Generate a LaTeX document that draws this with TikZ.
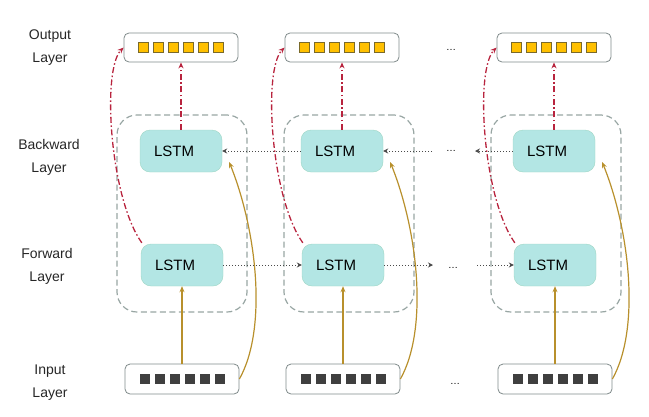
\documentclass[tikz,border=0pt]{standalone}
\usepackage{fontspec}
\setmainfont{Liberation Sans}
\usetikzlibrary{arrows.meta}
\definecolor{cellfill}{HTML}{B3E6E4}
\definecolor{celldraw}{HTML}{9ED6C4}
\definecolor{boxdraw}{HTML}{7F8A8A}
\definecolor{groupdraw}{HTML}{98A6A3}
\definecolor{outsq}{HTML}{FFC000}
\definecolor{outsqdraw}{HTML}{7A6A2A}
\definecolor{insq}{HTML}{3F3F3F}
\definecolor{redlink}{HTML}{B8243E}
\definecolor{goldlink}{HTML}{B8902C}
\definecolor{timelink}{HTML}{4A4A4A}

\begin{document}
\begin{tikzpicture}[x=1pt,y=-1pt,
    lstm/.style={draw=celldraw,fill=cellfill,rounded corners=10pt,text width=54pt,align=left,inner xsep=14pt,minimum height=42pt,font=\fontsize{15}{18}\selectfont},
    vecbox/.style={draw=boxdraw,line width=0.8pt,rounded corners=5pt,minimum width=114pt,minimum height=29pt},
    group/.style={draw=groupdraw,line width=1.2pt,dash pattern=on 6pt off 3.5pt,rounded corners=20pt,minimum width=130pt,minimum height=197pt},
    layerlab/.style={align=center,text=black!85,font=\fontsize{14}{23}\selectfont},
    toout/.style={redlink,line width=1.3pt,dash pattern=on 6pt off 2.5pt on 1.5pt off 2.5pt,-{Stealth[length=6pt,width=5pt]}},
    toin/.style={goldlink,line width=1.2pt,-{Stealth[length=6pt,width=5pt]}},
    totime/.style={timelink,line width=1pt,dotted,-{Stealth[length=5pt,width=5pt]}}]

    \useasboundingbox (0,0) rectangle (649,416);

    % Layer names on the left
    \node[layerlab] (labout) at (50,48) {Output\\Layer};
    \node[layerlab] (labbw) at (49,157) {Backward\\Layer};
    \node[layerlab] (labfw) at (47,266) {Forward\\Layer};
    \node[layerlab] (labin) at (50,383) {Input\\Layer};

    % One column per time step
    \foreach \i/\x/\gx in {1/181/182,2/342/349,3/554/556} {%
      \node[group] (grp\i) at (\gx,213.5) {};
      \node[vecbox] (out\i) at (\x,47.5) {};
      \node[vecbox,minimum height=30pt] (in\i) at (\x+1,379) {};
      \node[lstm] (bw\i) at (\x,151) {LSTM};
      \node[lstm] (fw\i) at (\x+1,265) {LSTM};
      \foreach \k in {0,...,5} {%
        \fill[outsq,draw=outsqdraw,line width=0.6pt] (\x-42.5+15*\k,42.5) rectangle ++(10,10);
        \fill[insq] (\x-41.5+15*\k,374) rectangle ++(10,10);
      }
    }

    % Gaps between time steps
    \node[anchor=base] (dotsout) at (451,50) {\ldots};
    \node[anchor=base] (dotsbw) at (451,151) {\ldots};
    \node[anchor=base] (dotsfw) at (453,268) {\ldots};
    \node[anchor=base] (dotsin) at (455,384) {\ldots};
    \coordinate (bwa) at (432,151);
    \coordinate (bwb) at (475,151);
    \coordinate (fwa) at (433,265);
    \coordinate (fwb) at (477,265);

    % Input to both directions
    \foreach \i in {1,2,3} {%
      \draw[toin] (in\i.north) -- (fw\i.south);
      \draw[toin] (in\i.east) .. controls +(28,-50) and +(28,70) .. ([xshift=7pt,yshift=-11pt]bw\i.east);
      \draw[toout] (bw\i.north) -- (out\i.south);
    }
    \draw[toout] ([xshift=1pt,yshift=1pt]fw1.north west) .. controls +(-32,-45) and +(-22,22) .. (out1.west);
    \draw[toout] ([xshift=1pt,yshift=1pt]fw2.north west) .. controls +(-32,-45) and +(-22,22) .. (out2.west);
    \draw[toout] ([xshift=1pt,yshift=1pt]fw3.north west) .. controls +(-32,-45) and +(-22,22) .. (out3.west);

    % Recurrent links
    \draw[totime] (fw1.east) -- (fw2.west);
    \draw[totime] (fw2.east) -- (fwa);
    \draw[totime] (fwb) -- (fw3.west);
    \draw[totime] (bw2.west) -- (bw1.east);
    \draw[totime] (bwa) -- (bw2.east);
    \draw[totime] (bw3.west) -- (bwb);

  \end{tikzpicture}
\end{document}
